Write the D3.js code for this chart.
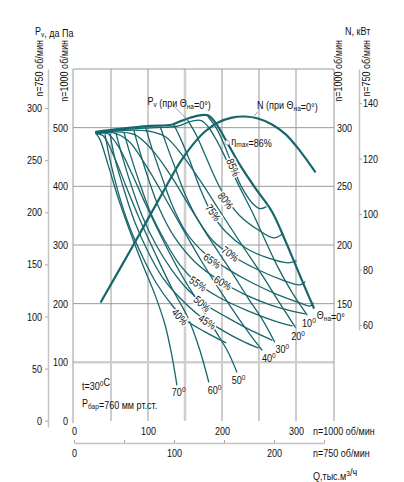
<!DOCTYPE html>
<html><head><meta charset="utf-8">
<script src="https://cdn.jsdelivr.net/npm/d3@7"></script>
<style>
body{margin:0;background:#fff}
svg text{font-family:"Liberation Sans",Arial,sans-serif;font-size:11px;fill:#111}
</style></head><body>
<svg id="c" width="404" height="482"></svg>
<script>
// ---------- data ----------
const qTicks1000 = [0,100,200,300];
const qTicks750  = [0,50,100,150,200,250];
const qLabels750 = [0,100,200];
const pTicks1000 = [0,100,200,300,400,500];
const pTicks750  = [0,50,100,150,200,250,300];
const nTicks1000 = [150,200,250,300];
const nTicks750  = [60,80,100,120,140];
const qGrid = [50,100,150,200,250,300];
const pGrid = [100,200,300,400,500];

// guide-vane angle curves Pv(Q) at n=1000 (Q тыс.м3/ч, Pv даПа)
const thetaNames = ["0","10","20","30","40","50","60","70"];
const theta0  = [[29.7,493],[62,498],[103,503],[132,505],[146,512],[157,517],[170,521],[181,521],[192,507],[207,474.5],[224,437],[244.6,397.7],[267.6,356.8],[285,309],[301,261],[313.5,223.6],[324,193]];
const theta10 = [[30,492],[69,497],[109.5,500],[138,502],[154,509],[162,512],[172,512],[181,502],[192,480],[208,440],[224,398],[240.5,357],[258,309],[276,261],[295,218.5],[315,181]];
const theta20 = [[30,492],[62,495],[96,495],[123,485],[147,452],[173,405],[200,352],[227,300],[254,249],[278,201],[299,160]];
const theta30 = [[30,490],[55,493],[82,488],[105,463],[130,420],[157,364],[184,309],[211,258],[235,210],[255,172],[271,135]];
const theta40 = [[30,490],[51,492],[73,478],[95,440],[119,389],[146,329.5],[173,271],[200,217],[224,172],[240.5,143],[254,121]];
const theta50 = [[30,490],[45,490],[59.5,469],[77,425],[97,369],[120,309],[143,254],[167.6,203],[192,152],[208,118],[220,83.6]];
const theta60 = [[30,490],[39,486.5],[53,454],[70,401],[89,343],[111,282],[132,227],[154,176],[170,121],[182,66.6]];
const theta70 = [[30,490],[35,480],[46,437],[59.5,381],[75.7,323],[93,266],[109.5,215],[123,164],[132,113],[139,61.5]];
const thetaCurves = [theta0,theta10,theta20,theta30,theta40,theta50,theta60,theta70];

// iso-efficiency curves
const effValues = [85,80,75,70,65,60,55,50,45,40];
const eff85 = [[181,519],[192,500],[203,471],[215,432],[227,397.7],[240.5,372],[251,362],[259.5,365]];
const eff80 = [[154,512],[165,488],[177,454],[190.5,415],[205,380.7],[224,350],[248.6,326],[270,312],[282,319]];
const eff75 = [[135,505],[144.6,479.6],[157,442],[170,397.7],[185,357],[205,322.6],[232,295],[262,278],[289,269.7],[300,273]];
const eff70 = [[116,503.6],[124,474.5],[136.5,432],[151,384],[167.6,343],[189,305.6],[216,280],[248.6,257.8],[281,240.7],[305,232],[312,237]];
const eff65 = [[97,500],[105,466],[117.6,420],[132,370],[151,322.6],[175.7,286.8],[205,261],[240.5,235.6],[275.7,215],[305,201.4],[319,196],[323,201]];
const eff60 = [[81,495],[89,459],[101,411],[116,360],[136.5,312],[163.5,271],[197,239],[232,215],[265,198],[292,188],[312,182.7]];
const eff55 = [[67.6,491.6],[75.7,455.8],[88,408],[103,356.8],[122,309],[143,266],[166,235.6],[197,210],[235,187.8],[267.6,172],[294.6,162]];
const eff50 = [[56.8,490],[65,452],[77,403],[92,350],[111,300],[132,257.8],[154,223.6],[175.7,199.7],[208,175.8],[240.5,153.6],[267.6,138]];
const eff45 = [[48.6,490],[55,449],[67.6,394],[82,339.7],[100,288.5],[120,244],[143,210],[170,179],[200,155],[227,136.6],[248.6,124.6]];
const eff40 = [[42,488],[48.6,445.5],[59.5,391],[74,334.6],[92,281.7],[111,235.6],[130,201.4],[151,172],[177,152],[205,133.5]];
const effCurves = [eff85,eff80,eff75,eff70,eff65,eff60,eff55,eff50,eff45,eff40];
const effLabelAt = [[215,432],[205,375.6],[188,355],[211,285],[186.5,273],[201,235.6],[167.6,234],[173,200],[180,169],[143,177.5]];

// power N(Q) at Θ=0, n=1000 (кВт)
const nPower = [[36.5,151.6],[79.7,199.4],[124.3,249.7],[143,270.2],[159.5,284.7],[177,296.7],[194.6,304.4],[213.5,308.6],[231,309.5],[248.6,307.8],[267.6,302.7],[286.5,294.1],[305.4,280.2],[325.7,262.5]];
const etaMaxPoint = [207,474.5];
const pvLabelPoint = [152,515];
const nLabelPoint = [242,308.7];

// ---------- scales ----------
const x1000 = d3.scaleLinear([0,350],[74,333]);
const x750  = d3.scaleLinear([0,250],[74,324]);
const yP    = d3.scaleLinear([0,600],[421,69]);
const yP750 = d3.scaleLinear([-6,337.5],[427,69]);
const yN    = d3.scaleLinear([50,350],[421,69]);
const yN750 = d3.scaleLinear([58.2,152.3],[330,69]);

const svg = d3.select("#c");
const TEAL = "#17666b", GRID = "#9a9a9a", LIGHT = "#cfcfcf";

// ---------- grid & frame ----------
const g = svg.append("g");
qGrid.forEach(q=>{
  g.append("line").attr("x1",x1000(q)).attr("x2",x1000(q)).attr("y1",yP(0)).attr("y2",yP(600))
   .attr("stroke", q===150?LIGHT:GRID).attr("stroke-width", q===150?2.5:1);
});
pGrid.forEach(p=>{
  g.append("line").attr("x1",x1000(0)-1).attr("x2",x1000(350)+1).attr("y1",yP(p)).attr("y2",yP(p))
   .attr("stroke", p===100?LIGHT:GRID).attr("stroke-width", p===100?2.5:1);
});
g.append("path").attr("fill","none").attr("stroke",GRID).attr("stroke-width",1)
 .attr("d",`M${x1000(0)-1},${yP(0)+2}V${yP(600)}H${x1000(350)+1}V${yP(0)}`);

// ---------- axes ----------
function styleAxis(sel, showDomain){
  sel.attr("font-family",null).attr("font-size",null);
  sel.selectAll("text").attr("fill","#111");
  sel.selectAll(".tick line").attr("stroke","#aaa");
  if(!showDomain) sel.select(".domain").remove();
  else sel.select(".domain").attr("stroke","#c4c4c4").attr("stroke-width",1.5);
}
svg.append("g").attr("transform","translate(48,0)")
  .call(d3.axisLeft(yP750).tickValues(pTicks750).tickSize(3).tickPadding(3).tickSizeOuter(0))
  .call(s=>styleAxis(s,true));
svg.append("g").attr("transform",`translate(${x1000(0)-1},0)`)
  .call(d3.axisLeft(yP).tickValues(pTicks1000).tickSize(0).tickPadding(5))
  .call(s=>styleAxis(s,false));
svg.append("g").attr("transform",`translate(${x1000(350)+1},0)`)
  .call(d3.axisRight(yN).tickValues(nTicks1000).tickSize(0).tickPadding(3))
  .call(s=>styleAxis(s,false));
svg.append("g").attr("transform","translate(359,0)")
  .call(d3.axisRight(yN750).tickValues(nTicks750).tickSize(3).tickPadding(1).tickSizeOuter(0))
  .call(s=>styleAxis(s,true));
svg.append("g").attr("transform",`translate(0,${yP(0)})`)
  .call(d3.axisBottom(x1000).tickValues(qTicks1000).tickSize(0).tickPadding(6))
  .call(s=>styleAxis(s,false));
svg.append("g").attr("transform","translate(0,443)")
  .call(d3.axisBottom(x750).tickValues(qTicks750).tickSize(-3).tickPadding(6).tickSizeOuter(0)
        .tickFormat(d=>qLabels750.includes(d)?d:""))
  .call(s=>styleAxis(s,true));

// ---------- texts ----------
function addText(x,y,parts,opts={}){
  const t = svg.append("text").attr("x",x).attr("y",y);
  if(opts.anchor) t.attr("text-anchor",opts.anchor);
  if(opts.rotate) t.attr("transform",`rotate(${opts.rotate},${x},${y})`);
  parts.forEach(p=>{
    if(typeof p==="string"){ t.append("tspan").text(p); }
    else if(p.sub){ t.append("tspan").attr("font-size","8px").attr("dy",2).text(p.sub);
                    t.append("tspan").attr("dy",-2).text(""); }
    else if(p.sup){ t.append("tspan").attr("font-size","8px").attr("dy",-4).text(p.sup);
                    t.append("tspan").attr("dy",4).text(""); }
  });
  return t;
}
addText(35,35,["P",{sub:"v"},", да Па"]);
addText(345,35,["N, кВт"]);
addText(43,40,["n=750 об/мин"],{anchor:"end",rotate:-90});
addText(68,40,["n=1000 об/мин"],{anchor:"end",rotate:-90});
addText(342,40,["n=1000 об/мин"],{anchor:"end",rotate:-90});
addText(370,40,["n=750 об/мин"],{anchor:"end",rotate:-90});
addText(313,435,["n=1000 об/мин"]);
addText(313,457,["n=750 об/мин"]);
addText(313,480,["Q,тыс.м",{sup:"3"},"/ч"]);
addText(82,390,["t=30",{sup:"0"},"C"]);
addText(82,407,["P",{sub:"бар"},"=760 мм рт.ст."]);

// ---------- curves ----------
const line = d3.line().x(d=>x1000(d[0])).y(d=>yP(d[1])).curve(d3.curveCatmullRom.alpha(0.5));
const lineN = d3.line().x(d=>x1000(d[0])).y(d=>yN(d[1])).curve(d3.curveCatmullRom.alpha(0.5));
const cg = svg.append("g").attr("fill","none").attr("stroke",TEAL).attr("stroke-linejoin","round").attr("stroke-linecap","round");
effCurves.forEach(c=>cg.append("path").attr("d",line(c)).attr("stroke-width",1.3));
thetaCurves.forEach((c,i)=>cg.append("path").attr("d",line(c)).attr("stroke-width",i===0?2.2:1.3));
cg.append("path").attr("d",lineN(nPower)).attr("stroke-width",2.2);

// efficiency labels
effValues.forEach((v,i)=>{
  const c = effCurves[i];
  const px = x1000(effLabelAt[i][0]), py = yP(effLabelAt[i][1]);
  let best=1e9, ang=0;
  for(let k=0;k<c.length-1;k++){
    const ax=x1000(c[k][0]), ay=yP(c[k][1]), bx=x1000(c[k+1][0]), by=yP(c[k+1][1]);
    const mx=(ax+bx)/2, my=(ay+by)/2, d=(mx-px)**2+(my-py)**2;
    if(d<best){best=d; ang=Math.atan2(by-ay,bx-ax)*180/Math.PI;}
  }
  svg.append("text").attr("x",px).attr("y",py).attr("text-anchor","middle").attr("dy","0.35em")
    .attr("transform",`rotate(${ang},${px},${py})`)
    .attr("stroke","#fff").attr("stroke-width",3.5).attr("paint-order","stroke")
    .text(v+"%");
});

// angle labels (offsets from curve ends)
const endOffsets = [[3,11],[-5,12],[-4,13],[1,11],[0,12],[-5,12],[-1,12],[-5,11]];
thetaCurves.forEach((c,i)=>{
  const e = c[c.length-1];
  const ex = x1000(e[0])+endOffsets[i][0], ey = yP(e[1])+endOffsets[i][1];
  if(i===0) addText(ex, ey, ["Θ",{sub:"на"},"=0°"]);
  else addText(ex, ey, [thetaNames[i],{sup:"0"}]);
});

// annotations
const pvx = x1000(pvLabelPoint[0]), pvy = yP(pvLabelPoint[1]);
svg.append("line").attr("x1",pvx-12).attr("y1",pvy-12).attr("x2",pvx).attr("y2",pvy).attr("stroke","#888").attr("stroke-width",0.8);
addText(pvx-39, pvy-14, ["P",{sub:"v"}," (при Θ",{sub:"на"},"=0°)"]);

const nx = x1000(nLabelPoint[0]), ny = yN(nLabelPoint[1]);
svg.append("line").attr("x1",nx).attr("y1",ny).attr("x2",nx+5).attr("y2",ny-6).attr("stroke","#888").attr("stroke-width",0.8);
addText(nx+4, ny-8, ["N (при Θ",{sub:"на"},"=0°)"]);

const ex0 = x1000(etaMaxPoint[0]), ey0 = yP(etaMaxPoint[1]);
svg.append("circle").attr("cx",ex0).attr("cy",ey0).attr("r",2.3).attr("fill","#fff").attr("stroke","#999").attr("stroke-width",0.8);
addText(ex0+4, ey0+2, ["η",{sub:"max"},"=86%"]);

// narrow the lettering (reference uses a condensed face): squeeze horizontally about each anchor
svg.selectAll("text").each(function(){
  const x = parseFloat(this.getAttribute("x")||0), y = parseFloat(this.getAttribute("y")||0);
  const tr = this.getAttribute("transform")||"";
  this.setAttribute("transform", `${tr} translate(${x},${y}) scale(0.82,1) translate(${-x},${-y})`);
});
</script>
</body></html>
